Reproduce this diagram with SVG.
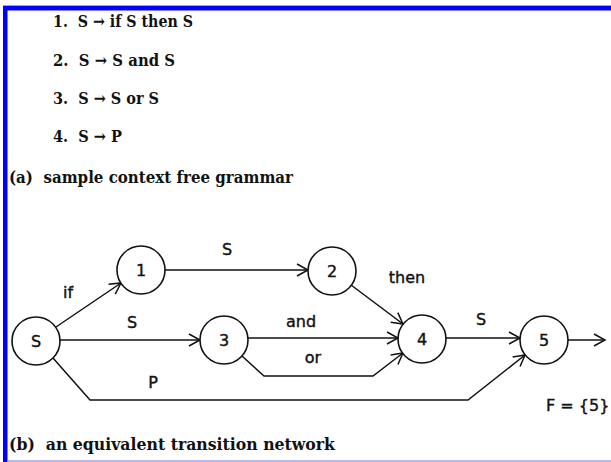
<svg xmlns="http://www.w3.org/2000/svg" width="611" height="462" viewBox="0 0 611 462">
<style>
.g{font-family:"DejaVu Serif","Liberation Serif",serif;font-size:17px;font-weight:bold;fill:#111}
.l{font-family:"DejaVu Sans","Liberation Sans",sans-serif;font-size:16px;fill:#111;stroke:#111;stroke-width:0.4;text-anchor:middle}
.n circle{fill:#fff;stroke:#111;stroke-width:1.6}
.e{fill:none;stroke:#111;stroke-width:1.5;marker-end:url(#ah)}
</style>
<defs>
<marker id="ah" markerUnits="userSpaceOnUse" markerWidth="14" markerHeight="14" refX="11" refY="6" orient="auto" overflow="visible">
<path d="M0,0 L11,6 L0,12" fill="none" stroke="#111" stroke-width="1.5"/>
</marker>
</defs>
<rect width="611" height="462" fill="#fff"/>
<rect x="3" y="5" width="608" height="1" fill="#9999ff"/>
<rect x="3" y="6" width="608" height="4.5" fill="#0000ff"/>
<rect x="3" y="6" width="4.5" height="456" fill="#0000ff"/>
<rect x="7.5" y="460" width="603.5" height="2" fill="#b8b8f0"/>

<g id="grammar">
<text class="g" x="53" y="27" textLength="140" lengthAdjust="spacingAndGlyphs">1.&#160; S → if S then S</text>
<text class="g" x="53" y="66" textLength="122" lengthAdjust="spacingAndGlyphs">2.&#160; S → S and S</text>
<text class="g" x="53" y="104" textLength="106" lengthAdjust="spacingAndGlyphs">3.&#160; S → S or S</text>
<text class="g" x="53" y="142" textLength="69" lengthAdjust="spacingAndGlyphs">4.&#160; S → P</text>
<text class="g" x="9" y="183" textLength="284" lengthAdjust="spacingAndGlyphs">(a)&#160; sample context free grammar</text>
<text class="g" x="9" y="450" textLength="326" lengthAdjust="spacingAndGlyphs">(b)&#160; an equivalent transition network</text>
</g>

<g id="connectors">
<line class="e" x1="56" y1="327" x2="121" y2="283"/>
<line class="e" x1="165" y1="270" x2="308" y2="270"/>
<line class="e" x1="351" y1="285" x2="403" y2="324"/>
<line class="e" x1="60" y1="340" x2="200" y2="340"/>
<line class="e" x1="248" y1="338" x2="398" y2="338"/>
<polyline class="e" points="242,356 264,376 373,376 403,353"/>
<polyline class="e" points="53,358 90,400 468,400 525,355"/>
<line class="e" x1="446" y1="338" x2="520" y2="338"/>
<line class="e" x1="568" y1="340" x2="605" y2="340"/>
</g>

<g id="labels">
<text class="l" x="227" y="255">S</text>
<text class="l" x="68" y="298">if</text>
<text class="l" x="132" y="328">S</text>
<text class="l" x="153" y="388">P</text>
<text class="l" x="301" y="327">and</text>
<text class="l" x="313" y="363">or</text>
<text class="l" x="407" y="283">then</text>
<text class="l" x="481" y="325">S</text>
<text class="l" x="546" y="411" style="text-anchor:start">F = {5}</text>
</g>

<g id="node-S" class="n"><circle cx="36" cy="341" r="24"/><text class="l" x="36" y="347">S</text></g>
<g id="node-1" class="n"><circle cx="141" cy="270" r="24"/><text class="l" x="141" y="276">1</text></g>
<g id="node-2" class="n"><circle cx="332" cy="271" r="24"/><text class="l" x="332" y="277">2</text></g>
<g id="node-3" class="n"><circle cx="224" cy="340" r="24"/><text class="l" x="224" y="346">3</text></g>
<g id="node-4" class="n"><circle cx="422" cy="339" r="24"/><text class="l" x="422" y="345">4</text></g>
<g id="node-5" class="n"><circle cx="544" cy="340" r="24"/><text class="l" x="544" y="346">5</text></g>
</svg>
